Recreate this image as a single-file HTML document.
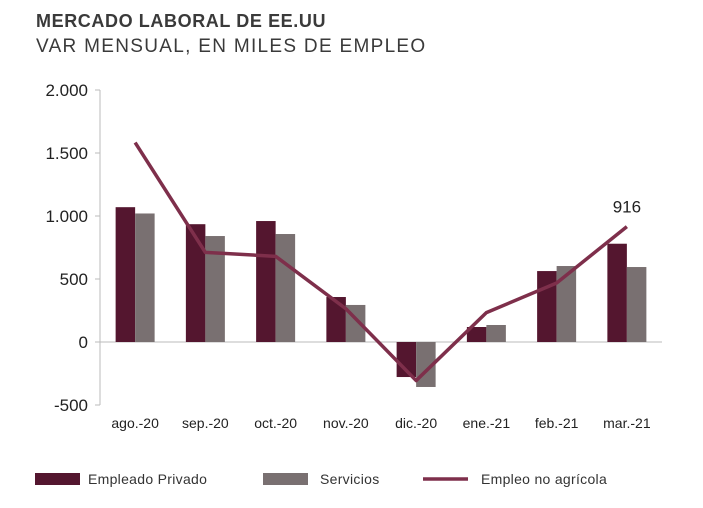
<!DOCTYPE html>
<html><head><meta charset="utf-8"><style>
body{margin:0;background:#fff;font-family:"Liberation Sans",sans-serif;}
#wrap{position:relative;width:703px;height:508px;overflow:hidden;}
.t1{position:absolute;left:36px;top:11px;font-size:18px;font-weight:bold;color:#3a3a3a;letter-spacing:0.6px;}
.t2{position:absolute;left:36px;top:36px;font-size:19px;color:#3a3a3a;letter-spacing:1.3px;}
</style></head><body>
<div id="wrap">
<div class="t1">MERCADO LABORAL DE EE.UU</div>
<div class="t2">VAR MENSUAL, EN MILES DE EMPLEO</div>
<svg id="chart" width="703" height="508" style="position:absolute;left:0;top:0"></svg>
</div>
<script>
const categories=["ago.-20","sep.-20","oct.-20","nov.-20","dic.-20","ene.-21","feb.-21","mar.-21"];
const privado=[1070,935,960,357,-278,119,563,780];
const servicios=[1020,841,857,294,-357,135,603,595];
const noAgricola=[1583,711,680,264,-306,233,468,916];
const yTicks=[-500,0,500,1000,1500,2000];
const yTickLabels=["-500","0","500","1.000","1.500","2.000"];
const NS="http://www.w3.org/2000/svg";
const svg=document.getElementById('chart');
const x0=100,x1=662,step=(x1-x0)/categories.length;
const y=v=>342-v*0.126;
const cx=i=>x0+step*(i+0.5);
function mk(t,a){const e=document.createElementNS(NS,t);for(const k in a)e.setAttribute(k,a[k]);svg.appendChild(e);return e;}
let ax=mk('line',{x1:x0,x2:x0,y1:y(2000),y2:y(-500),stroke:'#bbb'});


let zl=mk('line',{x1:x0,x2:x1,y1:y(0),y2:y(0),stroke:'#bbb'});


yTicks.forEach((v,i)=>{
 const tk=mk('line',{x1:x0-5,x2:x0,y1:y(v),y2:y(v),stroke:'#bbb'});
 
 
 const t=mk('text',{x:x0-12,y:y(v)+6,'text-anchor':'end','font-size':17,fill:'#222'});
 t.textContent=yTickLabels[i];
 
 
});
categories.forEach((c,i)=>{
 const t=mk('text',{x:cx(i),y:428,'text-anchor':'middle','font-size':14,fill:'#222'});
 t.textContent=c;
 
 
 const bw=19.5;
 const p=privado[i],s=servicios[i];
 const b1=mk('rect',{x:cx(i)-bw,width:bw,y:Math.min(y(p),y(0)),height:Math.abs(y(p)-y(0)),fill:'#54162f'});
 
 
 const b2=mk('rect',{x:cx(i),width:bw,y:Math.min(y(s),y(0)),height:Math.abs(y(s)-y(0)),fill:'#797071'});
 
 
});
const ln=mk('polyline',{points:noAgricola.map((v,i)=>cx(i)+','+y(v)).join(' '),fill:'none',stroke:'#7e2f4b','stroke-width':3.5,'stroke-linejoin':'round'});


const last=noAgricola.length-1;
const lb=mk('text',{x:cx(last),y:y(noAgricola[last])-14,'text-anchor':'middle','font-size':17,fill:'#222'});
lb.textContent=String(noAgricola[last]);


const leg=[["Empleado Privado",'rect','#54162f',35,88],["Servicios",'rect','#797071',263,320],["Empleo no agrícola",'line','#7e2f4b',423,481]];
leg.forEach(l=>{
 let m;
 if(l[1]==='rect'){m=mk('rect',{x:l[3],y:473,width:45,height:12,fill:l[2]});}
 else{m=mk('line',{x1:l[3],x2:l[3]+45,y1:479,y2:479,stroke:l[2],'stroke-width':3.5});}
 
 
 const t=mk('text',{x:l[4],y:484,'font-size':14,fill:'#333','letter-spacing':0.3});
 t.textContent=l[0];
 
 
});
</script>
</body></html>
